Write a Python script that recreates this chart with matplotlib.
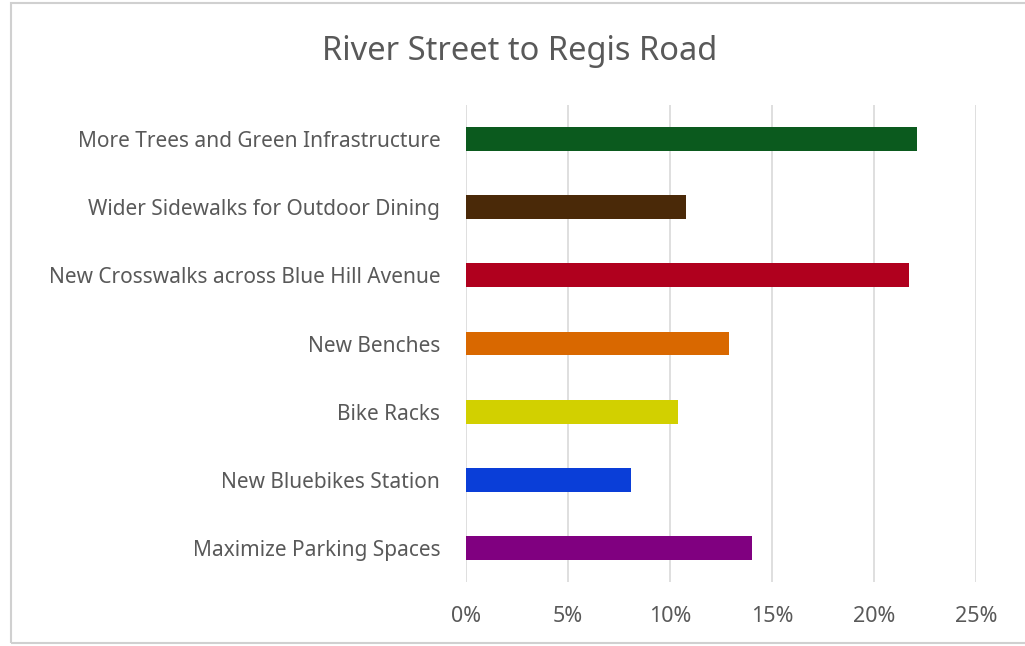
import matplotlib
matplotlib.use("Agg")
import matplotlib.pyplot as plt
from matplotlib.patches import Rectangle
from matplotlib.ticker import PercentFormatter

plt.rcParams['font.family'] = ['Noto Sans', 'DejaVu Sans']

categories = [
    "More Trees and Green Infrastructure",
    "Wider Sidewalks for Outdoor Dining",
    "New Crosswalks across Blue Hill Avenue",
    "New Benches",
    "Bike Racks",
    "New Bluebikes Station",
    "Maximize Parking Spaces",
]
shares = [0.221, 0.108, 0.217, 0.129, 0.104, 0.081, 0.140]
colors = ["#0B5A1E", "#4A2908", "#B0001E", "#D96800", "#D2D000", "#0A3ED8", "#800080"]
xticks = [0, 0.05, 0.10, 0.15, 0.20, 0.25]

textColor = "#595959"

fig = plt.figure(figsize=(10.25, 6.46), dpi=100)
ax = fig.add_axes([466/1025, 1 - 582/646, (976 - 466)/1025, (582 - 105)/646])

ypos = list(range(len(categories)))
ax.barh(ypos, shares, height=0.35, color=colors, zorder=3)
ax.set_yticks(ypos)
ax.set_yticklabels(categories, fontsize=15, color=textColor)
ax.set_ylim(len(categories) - 0.5, -0.5)

ax.set_xlim(0, 0.25)
ax.set_xticks(xticks)
ax.xaxis.set_major_formatter(PercentFormatter(1.0, decimals=0))
ax.tick_params(axis='x', labelsize=15.5, labelcolor=textColor, length=0, pad=17)
ax.tick_params(axis='y', length=0, pad=18.5)
ax.grid(axis='x', color="#D9D9D9", linewidth=1.2, zorder=0)
for s in ax.spines.values():
    s.set_visible(False)

fig.text(520/1025, 1 - 51/646, "River Street to Regis Road", ha='center', va='center',
         fontsize=23.5, color=textColor)

# light frame around the chart
fig.patches.append(Rectangle((11/1025, 1 - 643/646), 1.1, 640/646, transform=fig.transFigure,
                             fill=False, edgecolor="#D0D0D0", linewidth=1.5))

fig.savefig("out.png", dpi=100)
